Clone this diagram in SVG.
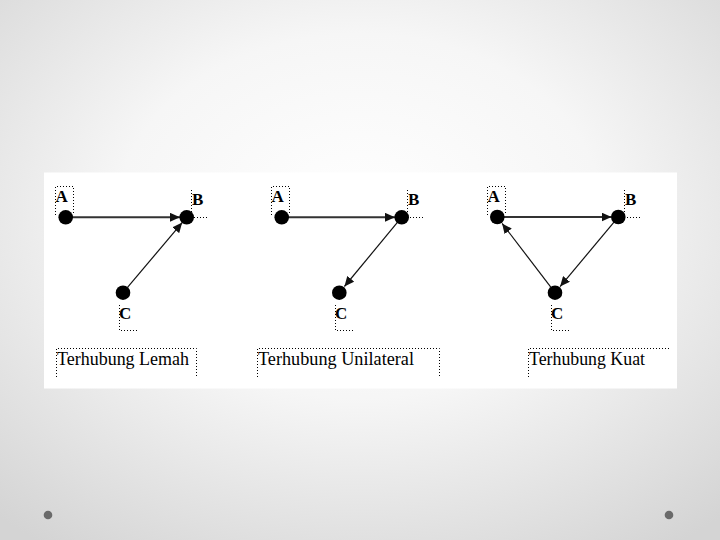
<svg xmlns="http://www.w3.org/2000/svg" width="720" height="540" viewBox="0 0 720 540">
<defs>
<radialGradient id="bg" cx="50%" cy="40%" r="75%">
<stop offset="0" stop-color="#ffffff"/>
<stop offset="0.45" stop-color="#f6f6f6"/>
<stop offset="1" stop-color="#d4d4d4"/>
</radialGradient>
<marker id="ah" markerUnits="userSpaceOnUse" markerWidth="10" markerHeight="9" refX="10" refY="4.5" orient="auto">
<path d="M0,0 L10,4.5 L0,9 z" fill="#111"/>
</marker>
<style>
.dot{fill:none;stroke:#000;stroke-width:1;stroke-dasharray:1 2}
.node{fill:#000}
.lbl{font-family:"Liberation Serif","Times New Roman",serif;font-weight:bold;font-size:17px;fill:#000}
.cap{font-family:"Liberation Serif","Times New Roman",serif;font-size:19px;fill:#000}
.e1{stroke:#333;stroke-width:2;fill:none;marker-end:url(#ah)}
.e2{stroke:#111;stroke-width:1.2;fill:none;marker-end:url(#ah)}
</style>
</defs>
<rect width="720" height="540" fill="url(#bg)"/>
<rect x="44" y="172.5" width="633" height="216" fill="#fff"/>
<circle cx="48" cy="515" r="4.3" fill="#6a6a6a"/>
<circle cx="669" cy="515" r="4.3" fill="#6a6a6a"/>

<g id="decor">
<path class="dot" d="M55.5,215 V186.5 H73.5 V213"/>
<path class="dot" d="M191.5,190 V217.5 H209"/>
<path class="dot" d="M119.5,305 V330.5 H138"/>
<path class="dot" d="M56.5,377 V348.5 H196.5 V377"/>

<path class="dot" d="M271.5,215 V186.5 H289.5 V213"/>
<path class="dot" d="M407.5,190 V217.5 H425"/>
<path class="dot" d="M335.5,305 V330.5 H353"/>
<path class="dot" d="M257.5,377 V348.5 H439.5 V377"/>

<path class="dot" d="M487.5,215 V186.5 H505.5 V213"/>
<path class="dot" d="M624.5,190 V217.5 H642"/>
<path class="dot" d="M551.5,305 V330.5 H569"/>
<path class="dot" d="M528.5,377 V348.5 H670"/>
</g>

<g id="connectors">
<line class="e1" x1="71" y1="217.3" x2="180" y2="217.3"/>
<line class="e2" x1="127.5" y1="287.4" x2="182.2" y2="222.6"/>

<line class="e1" x1="287" y1="217.3" x2="395" y2="217.3"/>
<line class="e2" x1="397.2" y1="222.7" x2="344.4" y2="286.5"/>

<line class="e1" x1="503" y1="217" x2="611.5" y2="217"/>
<line class="e2" x1="613.8" y1="222.4" x2="560.1" y2="286.6"/>
<line class="e2" x1="550.8" y1="287.1" x2="502.1" y2="223.4"/>
</g>

<g id="lemah">
<g id="lemah-A"><circle class="node" cx="65.7" cy="217.3" r="7.3"/><text class="lbl" x="55.5" y="202">A</text></g>
<g id="lemah-B"><circle class="node" cx="186.7" cy="217.3" r="7.3"/><text class="lbl" x="192" y="205">B</text></g>
<g id="lemah-C"><circle class="node" cx="123" cy="292.7" r="7.3"/><text class="lbl" x="119" y="319">C</text></g>
<text class="cap" x="57" y="364.5" textLength="132" lengthAdjust="spacingAndGlyphs">Terhubung Lemah</text>
</g>

<g id="unilateral">
<g id="uni-A"><circle class="node" cx="281.7" cy="217.3" r="7.3"/><text class="lbl" x="271.5" y="202">A</text></g>
<g id="uni-B"><circle class="node" cx="401.7" cy="217.3" r="7.3"/><text class="lbl" x="408" y="205">B</text></g>
<g id="uni-C"><circle class="node" cx="339.3" cy="292.7" r="7.3"/><text class="lbl" x="335" y="319">C</text></g>
<text class="cap" x="258" y="364.5" textLength="156" lengthAdjust="spacingAndGlyphs">Terhubung Unilateral</text>
</g>

<g id="kuat">
<g id="kuat-A"><circle class="node" cx="497.3" cy="217" r="7.3"/><text class="lbl" x="487.5" y="202">A</text></g>
<g id="kuat-B"><circle class="node" cx="618.3" cy="217" r="7.3"/><text class="lbl" x="625" y="205">B</text></g>
<g id="kuat-C"><circle class="node" cx="555" cy="292.7" r="7.3"/><text class="lbl" x="551" y="319">C</text></g>
<text class="cap" x="529" y="364.5" textLength="116" lengthAdjust="spacingAndGlyphs">Terhubung Kuat</text>
</g>
</svg>
